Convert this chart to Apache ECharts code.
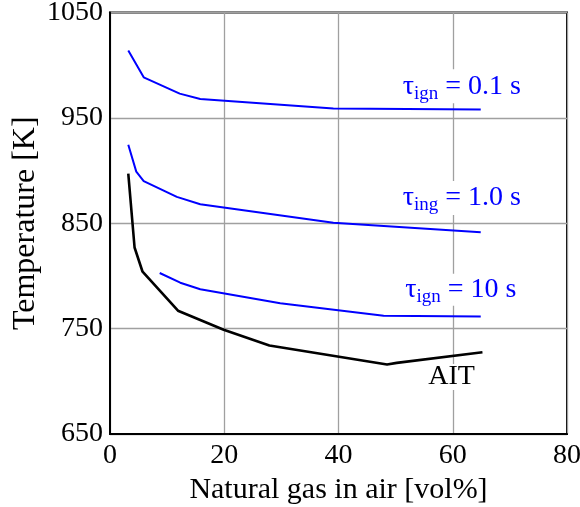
<!DOCTYPE html>
<html>
<head>
<meta charset="utf-8">
<script src="https://cdn.jsdelivr.net/npm/echarts@6/dist/echarts.min.js"></script>
<style>html,body{margin:0;padding:0;background:#fff;}#c{width:580px;height:507px;}</style>
</head>
<body>
<div id="c"></div>
<script>
var xTicks = [0, 20, 40, 60, 80];
var yTicks = [650, 750, 850, 950, 1050];

var ign01X = [3.2, 5.9, 12.2, 15.8, 39.1, 64.9];
var ign01Y = [1014, 988.5, 973, 968, 959, 958];

var ign1X = [3.2, 4.6, 5.9, 11.7, 15.8, 39.1, 64.9];
var ign1Y = [924.5, 899, 890, 875, 868, 850.5, 841.5];

var ign10X = [8.7, 12.3, 15.8, 29.8, 47.9, 64.9];
var ign10Y = [802.8, 793.6, 787.4, 774, 762.3, 761.4];

var aitX = [3.2, 4.3, 5.7, 11.9, 19.9, 27.9, 48.5, 50.2, 65.2];
var aitY = [897, 827, 804, 767, 749, 734, 716, 717.5, 727.5];

function pairs(xs, ys) { return xs.map(function (x, i) { return [x, ys[i]]; }); }

var FONT = '"Liberation Serif", "Times New Roman", serif';
var BLUE = '#0000ff';
var FS = 28;

function lbl(coord, text, color, lh) {
  return {
    symbol: 'rect',
    symbolSize: 1,
    silent: true,
    itemStyle: { color: 'rgba(0,0,0,0)' },
    data: [{ coord: coord }],
    label: {
      show: true,
      position: 'inside',
      formatter: text,
      backgroundColor: '#fff',
      padding: [0, 3, 0, 3],
      color: color,
      fontFamily: FONT,
      fontSize: FS,
      rich: {
        t: { fontFamily: FONT, fontSize: FS, color: color, lineHeight: lh },
        s: { fontFamily: FONT, fontSize: 19, color: color, lineHeight: lh, padding: [15, 0, 0, 0] }
      }
    }
  };
}

var chart = echarts.init(document.getElementById('c'), null, { renderer: 'canvas' });
chart.setOption({
  animation: false,
  backgroundColor: '#fff',
  grid: { left: 110, right: 13, top: 12.5, bottom: 73, containLabel: false, outerBoundsMode: 'none',
    show: true, borderColor: '#000', borderWidth: 2, backgroundColor: 'transparent' },
  xAxis: {
    type: 'value', min: xTicks[0], max: xTicks[xTicks.length - 1], interval: 20,
    name: 'Natural gas in air [vol%]', nameLocation: 'middle', nameGap: 40,
    nameTextStyle: { fontFamily: FONT, fontSize: 30, color: '#000' },
    axisLine: { show: true, lineStyle: { color: '#000', width: 2 } },
    axisTick: { show: false },
    axisLabel: { fontFamily: FONT, fontSize: FS, color: '#000', margin: 8, formatter: function (v) { return String(v); } },
    splitLine: { show: true, lineStyle: { color: '#a0a0a0', width: 1.3 } }
  },
  yAxis: {
    type: 'value', min: yTicks[0], max: yTicks[yTicks.length - 1], interval: 100,
    name: 'Temperature [K]', nameLocation: 'middle', nameGap: 68, nameMoveOverlap: false,
    nameTextStyle: { fontFamily: FONT, fontSize: 32, color: '#000' },
    axisLine: { show: true, lineStyle: { color: '#000', width: 2 } },
    axisTick: { show: false },
    axisLabel: { fontFamily: FONT, fontSize: FS, color: '#000', margin: 7, formatter: function (v) { return String(v); } },
    splitLine: { show: true, lineStyle: { color: '#a0a0a0', width: 1.3 } }
  },
  series: [
    { type: 'line', data: pairs(ign01X, ign01Y), showSymbol: false, lineStyle: { color: BLUE, width: 2 },
      markPoint: lbl([61.6, 980], '{t|τ}{s|ign}{t| = 0.1 s}', BLUE, 34) },
    { type: 'line', data: pairs(ign1X, ign1Y), showSymbol: false, lineStyle: { color: BLUE, width: 2 },
      markPoint: lbl([61.6, 874], '{t|τ}{s|ing}{t| = 1.0 s}', BLUE, 34) },
    { type: 'line', data: pairs(ign10X, ign10Y), showSymbol: false, lineStyle: { color: BLUE, width: 2 },
      markPoint: lbl([61.4, 787], '{t|τ}{s|ign}{t| = 10 s}', BLUE, 32) },
    { type: 'line', data: pairs(aitX, aitY), showSymbol: false, lineStyle: { color: '#000', width: 2.6 },
      markPoint: lbl([59.8, 704], '{t|AIT}', '#000', 26) }
  ]
});
</script>
</body>
</html>
